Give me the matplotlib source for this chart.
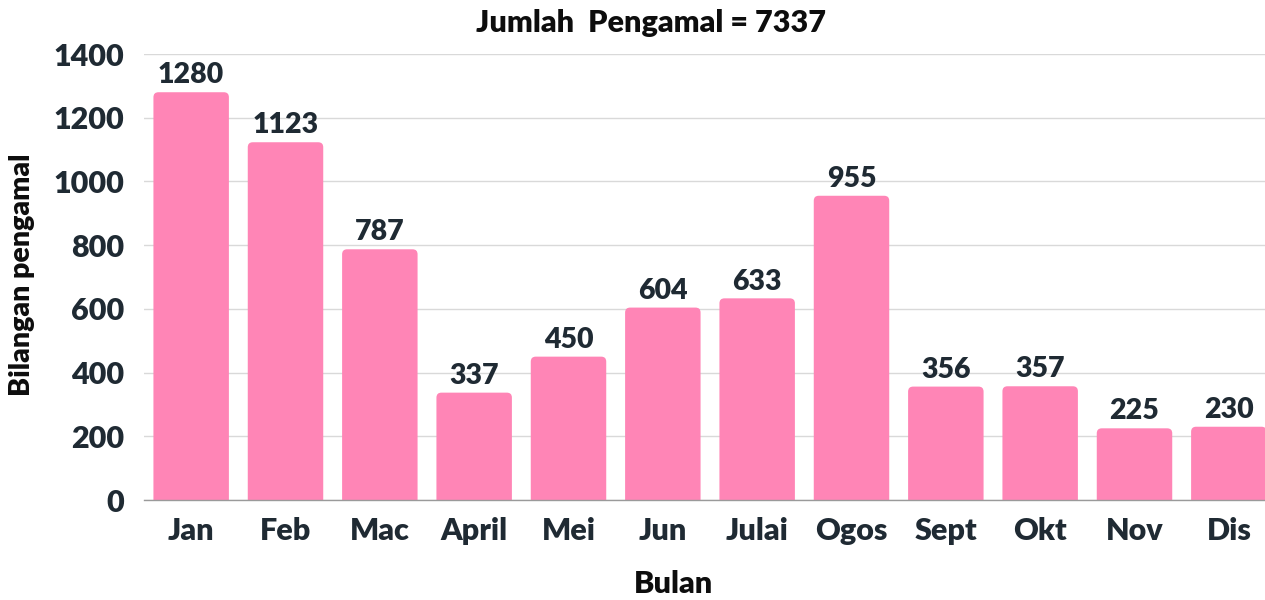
import matplotlib
matplotlib.use("Agg")
import matplotlib.pyplot as plt
from matplotlib.patches import FancyBboxPatch

months = ["Jan", "Feb", "Mac", "April", "Mei", "Jun", "Julai", "Ogos", "Sept", "Okt", "Nov", "Dis"]
values = [1280, 1123, 787, 337, 450, 604, 633, 955, 356, 357, 225, 230]
yticks = [0, 200, 400, 600, 800, 1000, 1200, 1400]
title = "Jumlah  Pengamal = 7337"

plt.rcParams['font.family'] = ['Lato', 'DejaVu Sans']
WT = 'heavy'
plt.rcParams['font.weight'] = WT
TXT = "#1f2a33"
BLK = "#0d0d0d"
PINK = "#ff85b6"

W, H = 1265, 600
fig = plt.figure(figsize=(W / 100, H / 100), dpi=100)
ax = fig.add_axes([144 / W, 100 / H, 1132 / W, 446 / H])
ax.set_ylim(0, 1400)
ax.set_xlim(-0.5, len(months) - 0.5)

bars = ax.bar(range(len(months)), values, width=0.8, color=PINK, zorder=2)
px_per_x = 1132 / len(months)
px_per_y = 446 / 1400
aspect = (1 / px_per_y) / (1 / px_per_x)
r = 5 / px_per_x
for b in bars:
    x0, y0 = b.get_x(), b.get_y()
    w, h = b.get_width(), b.get_height()
    b.set_visible(False)
    p = FancyBboxPatch((x0, y0 - 30), w, h + 30,
                       boxstyle=f"round,pad=0,rounding_size={r}",
                       mutation_aspect=aspect, fc=PINK, ec="none", zorder=2)
    ax.add_patch(p)

for i, v in enumerate(values):
    ax.text(i, v + 12, str(v), ha="center", va="bottom", fontsize=20.5,
            fontweight=WT, color=TXT, zorder=3)

ax.set_yticks(yticks)
ax.set_yticklabels([str(t) for t in yticks], fontsize=22, fontweight=WT, color=TXT)
ax.set_xticks(range(len(months)))
ax.set_xticklabels(months, fontsize=22, fontweight=WT, color=TXT)
ax.tick_params(axis="both", length=0)
ax.tick_params(axis="y", pad=14)
ax.tick_params(axis="x", pad=12)

ax.grid(axis="y", color="#d9d9d9", linewidth=1, zorder=0)
ax.set_axisbelow(True)
for s in ["top", "right", "left"]:
    ax.spines[s].set_visible(False)
ax.spines["bottom"].set_color("#9a9a9a")
ax.spines["bottom"].set_linewidth(1)
ax.spines["bottom"].set_zorder(3)

fig.text(673 / W, 1 - 584 / H, "Bulan", ha="center", va="center", fontsize=22,
         fontweight=WT, color=BLK)
fig.text(22 / W, 1 - 275 / H, "Bilangan pengamal", ha="center", va="center",
         rotation=90, fontsize=20.5, fontweight=WT, color=BLK)
fig.text(651 / W, 1 - 23 / H, title, ha="center", va="center", fontsize=22,
         fontweight=WT, color=BLK)

fig.savefig("out.png", dpi=100, facecolor="white")
